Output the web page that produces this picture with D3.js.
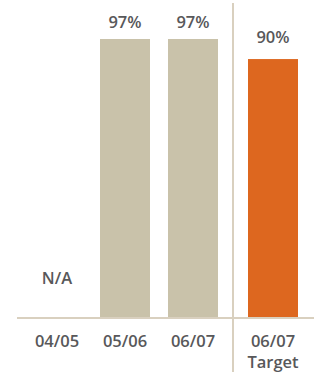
<!DOCTYPE html>
<html>
<head>
<meta charset="utf-8">
<script src="https://cdn.jsdelivr.net/npm/d3@7"></script>
<style>
  html, body { margin: 0; padding: 0; background: #fff; }
  svg { display: block; }
  text { font-family: "Open Sans", "Noto Sans", sans-serif; font-weight: 600; fill: #58585a; }
</style>
</head>
<body>
<svg id="chart" width="321" height="372"></svg>
<script>
// Performance by year, plus the year's target
const categories = ["04/05", "05/06", "06/07", "06/07 Target"];
const values = [null, 97, 97, 90];          // null = not available
const isTarget = [false, false, false, true];
const valueLabels = ["N/A", "97%", "97%", "90%"];

const W = 321, H = 372;
const svg = d3.select("#chart");

const baseY = 317;
const y = d3.scaleLinear().domain([0, 100]).range([baseY, 30.4]);

const x = d3.scaleBand()
  .domain(categories)
  .range([23, 295])
  .paddingInner(18 / 68)
  .paddingOuter(9 / 68);
const targetShift = 12;
const xPos = (c, i) => x(c) + (isTarget[i] ? targetShift : 0);

const beige = "#c9c2aa", orange = "#dd671f", rule = "#d9d0bf";

// Bars
svg.selectAll("rect.bar")
  .data(categories.map((c, i) => ({ c, i, v: values[i] })).filter(d => d.v != null))
  .join("rect")
  .attr("class", "bar")
  .attr("x", d => xPos(d.c, d.i))
  .attr("width", x.bandwidth())
  .attr("y", d => y(d.v))
  .attr("height", d => baseY - y(d.v))
  .attr("fill", d => isTarget[d.i] ? orange : beige);

// Baseline
svg.append("line")
  .attr("x1", 17).attr("x2", 314)
  .attr("y1", baseY + 1).attr("y2", baseY + 1)
  .attr("stroke", rule).attr("stroke-width", 2);

// Divider between actuals and target
const divX = (x(categories[2]) + x.bandwidth() + xPos(categories[3], 3)) / 2;
svg.append("line")
  .attr("x1", divX).attr("x2", divX)
  .attr("y1", 3).attr("y2", H)
  .attr("stroke", rule).attr("stroke-width", 2);

// Value labels
svg.selectAll("text.val")
  .data(categories.map((c, i) => ({ c, i, v: values[i] })))
  .join("text")
  .attr("class", "val")
  .attr("x", d => xPos(d.c, d.i) + x.bandwidth() / 2)
  .attr("y", d => d.v == null ? 284 : y(d.v) - (isTarget[d.i] ? 16 : 11))
  .attr("text-anchor", "middle")
  .attr("font-size", 16.5)
  .text(d => valueLabels[d.i]);

// Category labels
categories.forEach((c, i) => {
  const t = svg.append("text")
    .attr("x", xPos(c, i) + x.bandwidth() / 2)
    .attr("y", 347)
    .attr("text-anchor", "middle")
    .attr("font-size", 16.5);
  c.split(" ").forEach((part, k) => {
    t.append("tspan")
      .attr("x", xPos(c, i) + x.bandwidth() / 2)
      .attr("dy", k === 0 ? 0 : 21)
      .text(part);
  });
});
</script>
</body>
</html>
